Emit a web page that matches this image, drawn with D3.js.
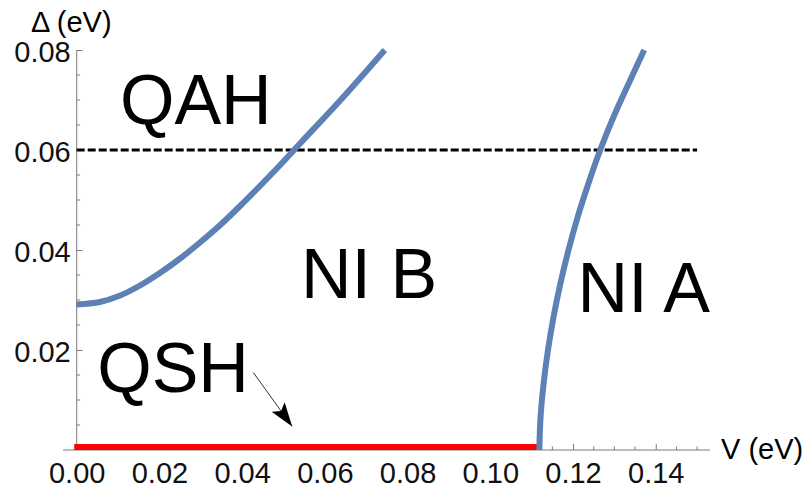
<!DOCTYPE html>
<html>
<head>
<meta charset="utf-8">
<script src="https://cdn.jsdelivr.net/npm/d3@7.9.0/dist/d3.min.js"></script>
<style>
  html, body { margin: 0; padding: 0; background: #fff; }
  svg { display: block; font-family: "Liberation Sans", Arial, Helvetica, sans-serif; }
</style>
</head>
<body>
<svg id="chart" width="812" height="489"></svg>
<script>
// phase boundary between QAH and NI B
const boundaryB_V = [0, 0.0056, 0.0105, 0.0153, 0.0201, 0.0250, 0.0298, 0.0347, 0.0395, 0.0443, 0.0492, 0.0540, 0.0637, 0.0745];
const boundaryB_D = [0.0291, 0.0296, 0.0309, 0.0329, 0.0354, 0.0383, 0.0415, 0.0450, 0.0488, 0.0528, 0.0570, 0.0613, 0.0699, 0.0800];

// phase boundary between NI B and NI A
const boundaryA_V = [0.11185, 0.11216, 0.11289, 0.11395, 0.11531, 0.11695, 0.11891, 0.12116, 0.12372, 0.12657, 0.12984, 0.13346, 0.13721];
const boundaryA_D = [0, 0.0067, 0.0133, 0.0200, 0.0267, 0.0333, 0.0400, 0.0467, 0.0533, 0.0600, 0.0667, 0.0733, 0.0800];

// QSH segment on the V axis (Delta = 0)
const qshV = [-0.0006, 0.1118];
const qshD = [0, 0];

// dashed reference line
const refV = [0, 0.15];
const refD = [0.06, 0.06];

// arrow pointing to the QSH segment: [start, tip]
const arrowV = [0.0427, 0.0521];
const arrowD = [0.0155, 0.0047];

// region labels (anchor = text centre / baseline, in data units)
const regionNames = ["QAH", "NI B", "NI A", "QSH"];
const regionV = [0.0288, 0.0707, 0.1371, 0.0233];
const regionD = [0.0653, 0.0305, 0.0277, 0.0117];

const xMajor = [0, 0.02, 0.04, 0.06, 0.08, 0.10, 0.12, 0.14];
const yMajor = [0.02, 0.04, 0.06, 0.08];

const svg = d3.select("#chart");

const x = d3.scaleLinear().domain([0, 0.15]).range([76.7, 76.7 + 0.15 * 4136]);
const y = d3.scaleLinear().domain([0, 0.08]).range([450, 50]);

const axisColor = "#7a7a7a";
const tickFont = 29;

// minor ticks every 0.005
const xMinor = d3.range(1, 31).map(i => i * 0.005).filter(v => !xMajor.some(m => Math.abs(m - v) < 1e-9));
const yMinor = d3.range(1, 16).map(i => i * 0.005).filter(v => !yMajor.some(m => Math.abs(m - v) < 1e-9));

// axis lines
svg.append("line")
  .attr("x1", x(-0.0033)).attr("x2", x(0.1531))
  .attr("y1", y(0)).attr("y2", y(0))
  .attr("stroke", axisColor).attr("stroke-width", 1);
svg.append("line")
  .attr("x1", x(0)).attr("x2", x(0))
  .attr("y1", y(0)).attr("y2", y(0.08))
  .attr("stroke", axisColor).attr("stroke-width", 1);

// x axis ticks
const gx = svg.append("g").attr("transform", `translate(0,${y(0)})`);
gx.call(d3.axisBottom(x).tickValues(xMajor).tickSize(-6).tickPadding(12)
  .tickFormat(d3.format(".2f")));
gx.attr("font-family", null).attr("font-size", null);
gx.select(".domain").remove();
gx.selectAll(".tick line").attr("stroke", axisColor);
gx.selectAll(".tick text").attr("font-size", tickFont).attr("fill", "#111");
gx.selectAll(".minor").data(xMinor).enter().append("line")
  .attr("class", "minor")
  .attr("x1", d => x(d)).attr("x2", d => x(d))
  .attr("y1", 0).attr("y2", -3.5)
  .attr("stroke", axisColor);

// y axis ticks
const gy = svg.append("g").attr("transform", `translate(${x(0)},0)`);
gy.call(d3.axisLeft(y).tickValues(yMajor).tickSize(-6).tickPadding(6)
  .tickFormat(d3.format(".2f")));
gy.attr("font-family", null).attr("font-size", null);
gy.select(".domain").remove();
gy.selectAll(".tick line").attr("stroke", axisColor);
gy.selectAll(".tick text").attr("font-size", tickFont).attr("fill", "#111")
  .attr("dy", "0.38em");
gy.selectAll(".minor").data(yMinor).enter().append("line")
  .attr("class", "minor")
  .attr("x1", 0).attr("x2", 3.5)
  .attr("y1", d => y(d)).attr("y2", d => y(d))
  .attr("stroke", axisColor);

// axis labels
svg.append("text").attr("x", 31).attr("y", 32)
  .attr("font-size", 29).text("Δ (eV)");
svg.append("text").attr("x", 721).attr("y", 459)
  .attr("font-size", 29).text("V (eV)");

// clip so the QSH bar sits on top of the axis only
svg.append("clipPath").attr("id", "above-axis")
  .append("rect").attr("x", 0).attr("y", 0).attr("width", 812).attr("height", y(0));

const line = d3.line().x(d => x(d[0])).y(d => y(d[1]));

svg.append("path")
  .datum(d3.zip(qshV, qshD))
  .attr("clip-path", "url(#above-axis)")
  .attr("fill", "none").attr("stroke", "#ff0000").attr("stroke-width", 12)
  .attr("d", line);

// dashed line at Delta = 0.06
svg.append("path")
  .datum(d3.zip(refV, refD))
  .attr("fill", "none").attr("stroke", "#000").attr("stroke-width", 3)
  .attr("stroke-dasharray", "8,3")
  .attr("d", line);

const smooth = d3.line().x(d => x(d[0])).y(d => y(d[1])).curve(d3.curveCatmullRom.alpha(0.5));

[[boundaryB_V, boundaryB_D], [boundaryA_V, boundaryA_D]].forEach(([vs, ds]) => {
  svg.append("path")
    .datum(d3.zip(vs, ds))
    .attr("fill", "none").attr("stroke", "#5e81b5").attr("stroke-width", 6)
    .attr("d", smooth);
});

// region labels
svg.selectAll(".region").data(regionNames).enter().append("text")
  .attr("class", "region")
  .attr("x", (d, i) => x(regionV[i]))
  .attr("y", (d, i) => y(regionD[i]))
  .attr("text-anchor", "middle")
  .attr("font-size", 70)
  .text(d => d);

// arrow
const defs = svg.append("defs");
defs.append("marker").attr("id", "head")
  .attr("viewBox", "0 0 24 16").attr("refX", 24).attr("refY", 8)
  .attr("markerWidth", 24).attr("markerHeight", 16)
  .attr("markerUnits", "userSpaceOnUse").attr("orient", "auto")
  .append("path").attr("d", "M0,0 L24,8 L0,16 L5,8 Z").attr("fill", "#000");

svg.append("line")
  .attr("x1", x(arrowV[0])).attr("y1", y(arrowD[0]))
  .attr("x2", x(arrowV[1])).attr("y2", y(arrowD[1]))
  .attr("stroke", "#333").attr("stroke-width", 1)
  .attr("marker-end", "url(#head)");
</script>
</body>
</html>
